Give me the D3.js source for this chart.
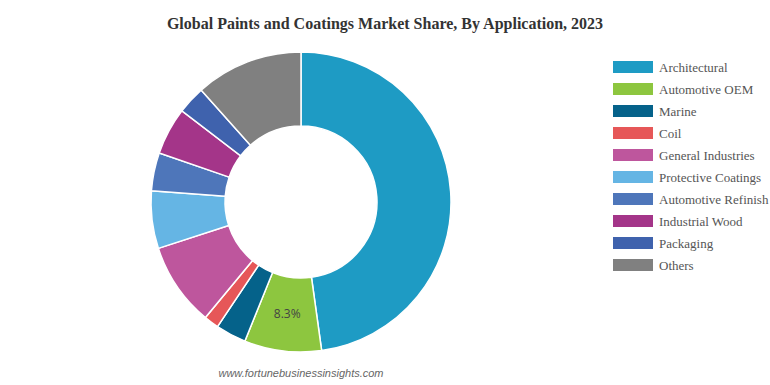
<!DOCTYPE html>
<html>
<head>
<meta charset="utf-8">
<script src="https://cdn.jsdelivr.net/npm/d3@7"></script>
<style>
  body { margin: 0; background: #fff; }
</style>
</head>
<body>
<div id="chart"></div>
<script>
const categories = ["Architectural", "Automotive OEM", "Marine", "Coil", "General Industries",
  "Protective Coatings", "Automotive Refinish", "Industrial Wood", "Packaging", "Others"];
const shares = [47.8, 8.3, 3.3, 1.6, 9.0, 6.2, 4.1, 5.1, 3.0, 11.6];
const colors = ["#1e9bc4", "#8dc63f", "#05628a", "#e65758", "#be569d",
  "#65b5e4", "#4e76ba", "#a43589", "#3f62ad", "#808080"];
const labelled = ["Automotive OEM"];

const width = 770, height = 385;
const cx = 301, cy = 202, outer = 150, inner = 76;

const svg = d3.select("#chart").append("svg")
    .attr("width", width)
    .attr("height", height);

svg.append("text")
    .attr("x", 385)
    .attr("y", 29)
    .attr("text-anchor", "middle")
    .attr("font-family", "'Liberation Serif', 'Times New Roman', serif")
    .attr("font-weight", "bold")
    .attr("font-size", 16)
    .attr("fill", "#333")
    .text("Global Paints and Coatings Market Share, By Application, 2023");

const data = categories.map((c, i) => ({ name: c, value: shares[i], color: colors[i] }));

const pie = d3.pie().value(d => d.value).sort(null);
const arc = d3.arc().innerRadius(inner).outerRadius(outer);

const g = svg.append("g").attr("transform", `translate(${cx},${cy})`);

const arcs = pie(data);

g.selectAll("path")
    .data(arcs)
    .join("path")
    .attr("d", arc)
    .attr("fill", d => d.data.color)
    .attr("stroke", "#fff")
    .attr("stroke-width", 1.5);

g.selectAll("text.lbl")
    .data(arcs.filter(d => labelled.includes(d.data.name)))
    .join("text")
    .attr("class", "lbl")
    .attr("transform", d => `translate(${arc.centroid(d)})`)
    .attr("text-anchor", "middle")
    .attr("dy", "0.35em")
    .attr("font-family", "'Open Sans', 'Noto Sans', sans-serif")
    .attr("font-size", 12)
    .attr("fill", "#444")
    .text(d => d.data.value.toFixed(1) + "%");

// legend
const legend = svg.append("g").attr("transform", "translate(613,61)");
const rows = legend.selectAll("g")
    .data(data)
    .join("g")
    .attr("transform", (d, i) => `translate(0,${i * 22})`);

rows.append("rect")
    .attr("width", 40)
    .attr("height", 12)
    .attr("fill", d => d.color);

rows.append("text")
    .attr("x", 46)
    .attr("y", 6)
    .attr("dy", "0.35em")
    .attr("font-family", "'Liberation Serif', 'Times New Roman', serif")
    .attr("font-size", 13)
    .attr("fill", "#555")
    .text(d => d.name);

svg.append("text")
    .attr("x", 301)
    .attr("y", 377)
    .attr("text-anchor", "middle")
    .attr("font-family", "'Liberation Sans', Arial, sans-serif")
    .attr("font-style", "italic")
    .attr("font-size", 11)
    .attr("fill", "#666")
    .text("www.fortunebusinessinsights.com");
</script>
</body>
</html>
